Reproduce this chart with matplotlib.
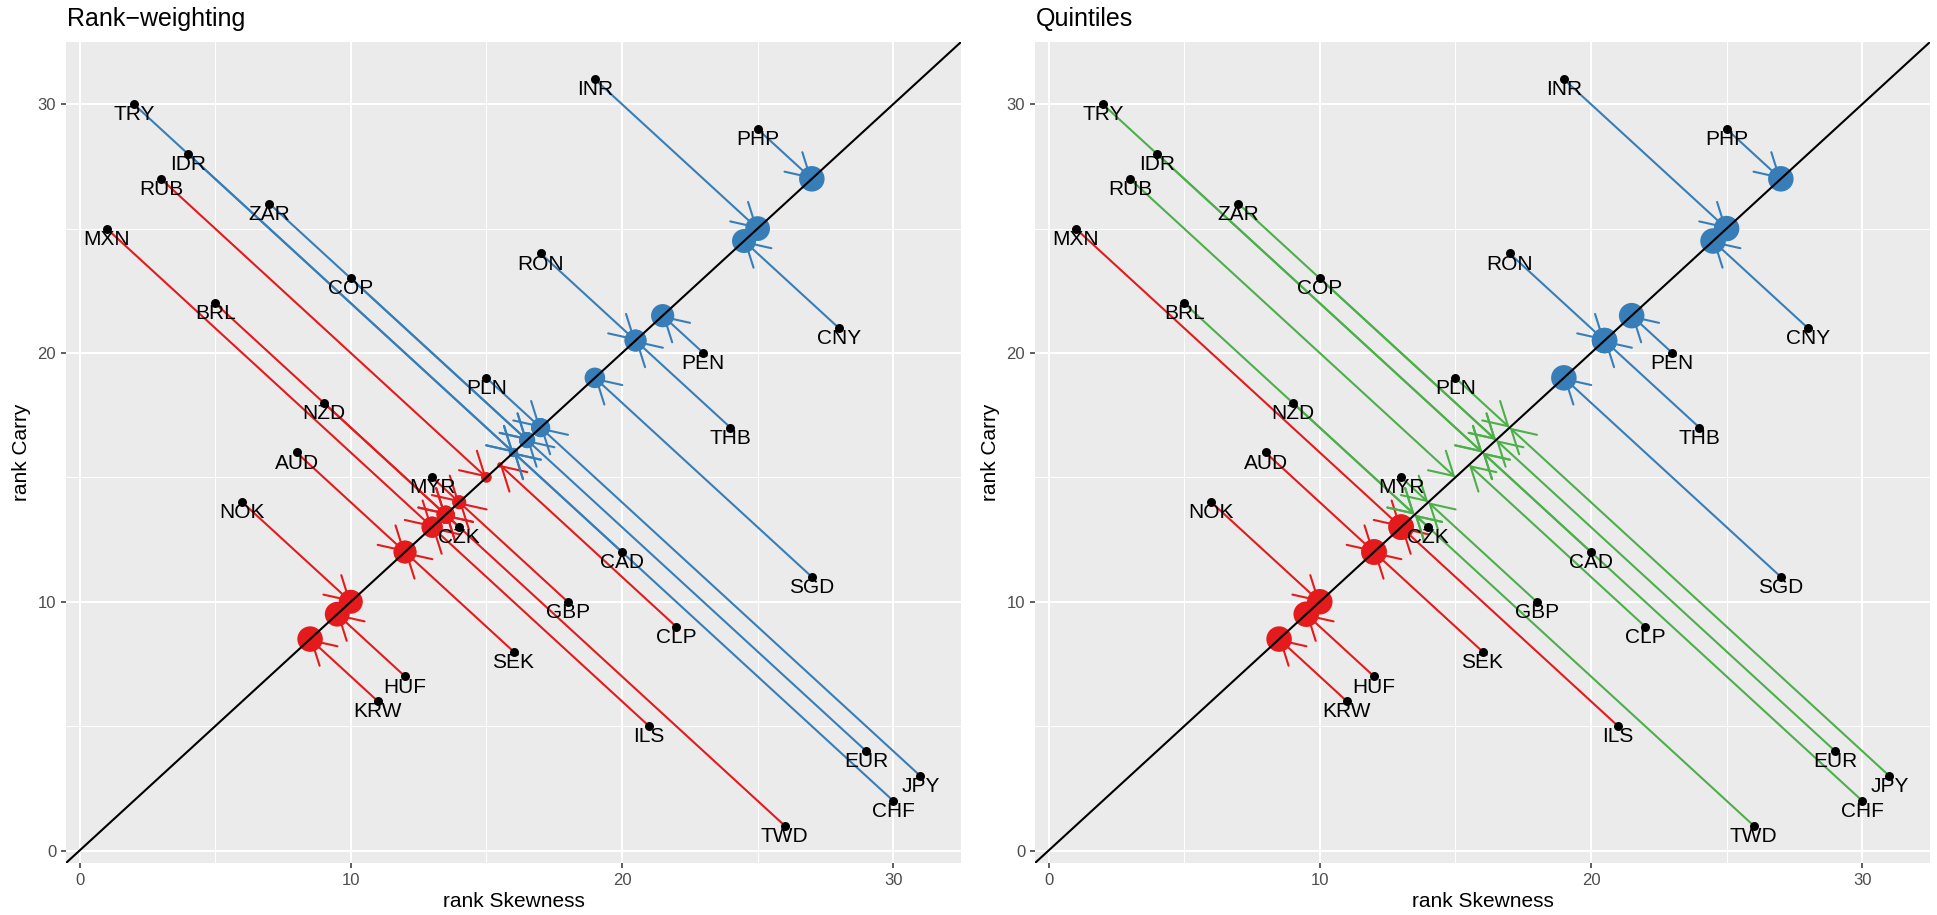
import numpy as np
import pandas as pd
import matplotlib
matplotlib.use("Agg")
import matplotlib.pyplot as plt

plt.rcParams["font.family"] = ["Liberation Sans", "DejaVu Sans"]

# ranks
currencies = ["TRY", "IDR", "RUB", "ZAR", "MXN", "COP", "BRL", "NZD", "AUD", "NOK",
              "MYR", "CZK", "PLN", "RON", "INR", "PHP", "CNY", "PEN", "THB", "SGD",
              "CAD", "GBP", "CLP", "SEK", "HUF", "KRW", "ILS", "EUR", "JPY", "CHF", "TWD"]
rank_skew = [2, 4, 3, 7, 1, 10, 5, 9, 8, 6,
             13, 14, 15, 17, 19, 25, 28, 23, 24, 27,
             20, 18, 22, 16, 12, 11, 21, 29, 31, 30, 26]
rank_carry = [30, 28, 27, 26, 25, 23, 22, 18, 16, 14,
              15, 13, 19, 24, 31, 29, 21, 20, 17, 11,
              12, 10, 9, 8, 7, 6, 5, 4, 3, 2, 1]

panel_titles = ["Rank\u2212weighting", "Quintiles"]
xticks = [0, 10, 20, 30]
yticks = [0, 10, 20, 30]

RED = "#E41A1C"
BLUE = "#377EB8"
GREEN = "#4DAF4A"

df = pd.DataFrame({"ccy": currencies, "x": rank_skew, "y": rank_carry})
df["mid"] = (df["x"] + df["y"]) / 2
df["r"] = df["mid"].rank()
n = len(df)

# rank weighting: weight = rank - mean rank
df["w_rank"] = df["r"] - df["r"].mean()
# quintiles: long top fifth, short bottom fifth
q = int(np.ceil(n / 5))
df["w_quint"] = np.where(df["r"] <= q, -1.0, np.where(df["r"] > n - q, 1.0, 0.0))


def gg_diam(size):
    # ggplot point size -> diameter in points (figure at 100 dpi, source at ~136)
    return 0.75 * (size * 2.845 + 0.945) * 1.36


def panel(ax, w, rescale):
    ax.set_facecolor("#EBEBEB")
    for s in ax.spines.values():
        s.set_visible(False)
    ax.set_xlim(-0.5, 32.5)
    ax.set_ylim(-0.5, 32.5)
    ax.set_xticks(xticks)
    ax.set_yticks(yticks)
    ax.set_xticks([5, 15, 25], minor=True)
    ax.set_yticks([5, 15, 25], minor=True)
    ax.grid(which="major", color="white", lw=1.5)
    ax.grid(which="minor", color="white", lw=0.75)
    ax.set_axisbelow(True)
    ax.tick_params(which="major", length=3.6, width=1.1, color="#333333",
                   labelsize=12, labelcolor="#4D4D4D", pad=3.5)
    ax.tick_params(which="minor", length=0)
    ax.set_xlabel("rank Skewness", fontsize=15, labelpad=3)
    ax.set_ylabel("rank Carry", fontsize=15, labelpad=5)

    cols = np.where(w < 0, RED, np.where(w > 0, BLUE, GREEN))
    if rescale:
        aw = np.abs(w)
        sz = 1 + 5 * np.sqrt((aw - aw.min()) / (aw.max() - aw.min()))
    else:
        sz = np.where(w != 0, 6.0, 0.0)

    for i, row in df.iterrows():
        ax.annotate("", xy=(row["mid"], row["mid"]), xytext=(row["x"], row["y"]),
                    arrowprops=dict(arrowstyle="->,head_length=16.5,head_width=9.5",
                                    mutation_scale=1, color=cols[i], lw=1.5,
                                    shrinkA=0, shrinkB=0), zorder=2)

    keep = sz > 0
    ax.scatter(df["mid"][keep], df["mid"][keep], s=gg_diam(sz[keep]) ** 2,
               c=cols[keep], linewidths=0, zorder=3)
    ax.axline((0, 0), (1, 1), color="black", lw=1.5, zorder=4)
    ax.scatter(df["x"], df["y"], s=gg_diam(1.9) ** 2, c="black", linewidths=0, zorder=5)
    for i, row in df.iterrows():
        ax.annotate(row["ccy"], (row["x"], row["y"]), xytext=(0, -0.8),
                    textcoords="offset points", ha="center", va="top",
                    fontsize=15, color="black", zorder=6)


fig = plt.figure(figsize=(19.37, 9.15), dpi=100)
W, H = 1937, 915
rects = [(66, 961), (1035, 1930)]
weights = [df["w_rank"].values, df["w_quint"].values]
for k, (x0, x1) in enumerate(rects):
    ax = fig.add_axes([x0 / W, (H - 863) / H, (x1 - x0) / W, (863 - 42) / H])
    panel(ax, weights[k], rescale=(k == 0))
    fig.text(x0 / W + 1 / W, 1 - 26 / H, panel_titles[k], fontsize=18, va="baseline", ha="left")

fig.savefig("out.png", dpi=100)
